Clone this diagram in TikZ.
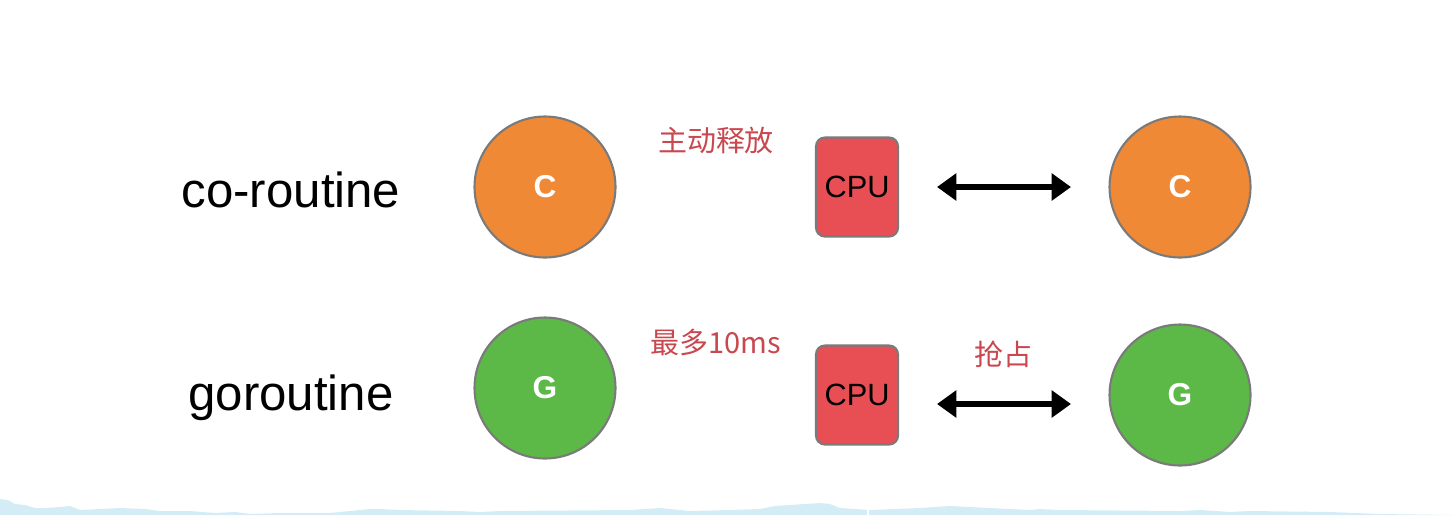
\documentclass[tikz,border=0pt]{standalone}
\usepackage{fontspec}
\setmainfont{Liberation Sans}
\newfontfamily\cjk{Noto Sans CJK SC}
\usetikzlibrary{arrows.meta,positioning}

\definecolor{corange}{HTML}{F08935}
\definecolor{ggreen}{HTML}{5DB947}
\definecolor{cpured}{HTML}{E84F55}
\definecolor{edgegray}{HTML}{7A7A7A}
\definecolor{labelred}{HTML}{C9474E}
\definecolor{wash}{HTML}{D3ECF6}

\begin{document}
\begin{tikzpicture}[x=0.02cm,y=-0.02cm,
    task/.style={circle, draw=edgegray, line width=1.2pt, minimum size=2.82cm,
      inner sep=0pt, text=white, font=\fontsize{18}{20}\selectfont\bfseries},
    cpubox/.style={draw=edgegray, line width=1.2pt, fill=cpured, rounded corners=5pt,
      minimum width=1.64cm, minimum height=1.98cm, inner sep=0pt,
      font=\fontsize{17.5}{20}\selectfont},
    kind/.style={font=\fontsize{28}{32}\selectfont},
    note/.style={text=labelred, font=\cjk\fontsize{16.5}{20}\selectfont},
    swap/.style={line width=3.3pt, {Triangle[length=11pt,width=15pt]}-{Triangle[length=11pt,width=15pt]}}]
    \useasboundingbox (0,0) rectangle (1453,515);

    % watercolour strip along the bottom
    \fill[wash] (0,499) -- (8,500) -- (15,504) -- (25,505) -- (35,508) -- (45,508)
      -- (60,507) -- (70,506) -- (80,510) -- (100,509) -- (120,508) -- (145,509)
      -- (160,511) -- (190,511) -- (215,513) -- (235,512) -- (250,514) -- (280,513)
      -- (330,513) -- (350,511) -- (370,509) -- (380,509) -- (400,510) -- (460,511)
      -- (480,512) -- (500,511) -- (630,510) -- (660,508) -- (690,511) -- (730,510)
      -- (760,509) -- (775,506) -- (790,505) -- (820,503) -- (830,504) -- (840,508)
      -- (870,510) -- (920,508) -- (950,506) -- (970,507) -- (1010,509) -- (1030,510)
      -- (1040,509) -- (1060,510) -- (1180,511) -- (1200,510) -- (1230,512)
      -- (1250,511) -- (1330,512) -- (1380,514) -- (1453,515) -- (0,515) -- cycle;
    \draw[white, line width=1pt] (868,507) -- (868,515);

    % row labels
    \node[kind] (corow) at (291,190) {co-routine};
    \node[kind] (gorow) at (291,398) {goroutine};

    % coroutine row
    \node[task, fill=corange] (c1) at (545,187) {C};
    \node[cpubox] (cpu1) at (857,187) {CPU};
    \node[task, fill=corange] (c2) at (1180,187) {C};
    \node[note] (yield) at (716,140) {主动释放};

    % goroutine row
    \node[task, fill=ggreen] (g1) at (545,388) {G};
    \node[cpubox] (cpu2) at (857,395) {CPU};
    \node[task, fill=ggreen] (g2) at (1180,395) {G};
    \node[note] (limit) at (716,342) {最多10ms};
    \node[note] (preempt) at (1003,354) {抢占};

    % switch arrows
    \coordinate (s1a) at (937,187);
    \coordinate (s1b) at (1071,187);
    \coordinate (s2a) at (937,404);
    \coordinate (s2b) at (1071,404);
    \draw[swap] (s1a) -- (s1b);
    \draw[swap] (s2a) -- (s2b);
\end{tikzpicture}
\end{document}
